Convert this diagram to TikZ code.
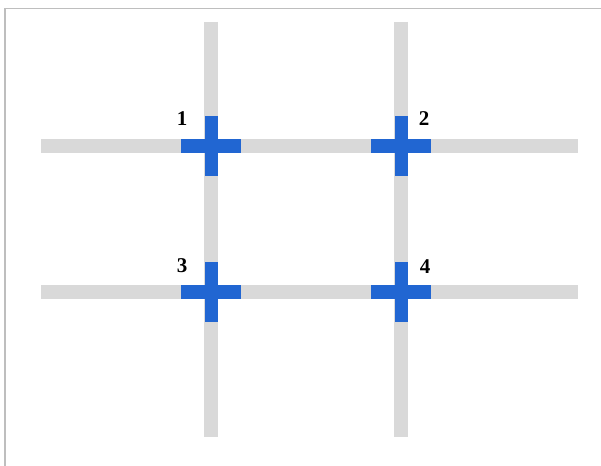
\documentclass[tikz,border=0pt]{standalone}
\usepackage{fontspec}
\setmainfont{Liberation Serif}
\usetikzlibrary{calc}

\definecolor{bargray}{RGB}{217,217,217}
\definecolor{framegray}{RGB}{190,190,190}
\definecolor{crossblue}{RGB}{33,102,210}

\begin{document}
\begin{tikzpicture}[
    x=1pt, y=-1pt,
    bar/.style={draw=bargray, line width=14pt},
    arm/.style={fill=crossblue},
    num/.style={font=\fontsize{21}{21}\selectfont\bfseries, inner sep=0pt},
]
\useasboundingbox (0,0) rectangle (601,465);

% ── Frame ──
\draw[framegray, line width=1.2pt] (5,8.5) rectangle (615,480);

% ── Grid bars ──
\coordinate (h1w) at (41,146);  \coordinate (h1e) at (578,146);
\coordinate (h2w) at (41,292);  \coordinate (h2e) at (578,292);
\coordinate (v1n) at (211,22);  \coordinate (v1s) at (211,437);
\coordinate (v2n) at (401,22);  \coordinate (v2s) at (401,437);

\draw[bar] (h1w) -- (h1e);
\draw[bar] (h2w) -- (h2e);
\draw[bar] (v1n) -- (v1s);
\draw[bar] (v2n) -- (v2s);

% ── Crossings ──
\coordinate (c1) at (211,146);
\coordinate (c2) at (401,146);
\coordinate (c3) at (211,292);
\coordinate (c4) at (401,292);

\foreach \c in {c1,c2,c3,c4}{
    \fill[arm] ($(\c)+(-30,-7)$) rectangle ($(\c)+(30,7)$);
    \fill[arm] ($(\c)+(-6.5,-30)$) rectangle ($(\c)+(6.5,30)$);
}

% ── Labels ──
\node[num] (n1) at ($(c1)+(-29,-27)$) {1};
\node[num] (n2) at ($(c2)+(23,-27)$) {2};
\node[num] (n3) at ($(c3)+(-29,-26)$) {3};
\node[num] (n4) at ($(c4)+(24,-25)$) {4};

\end{tikzpicture}
\end{document}
